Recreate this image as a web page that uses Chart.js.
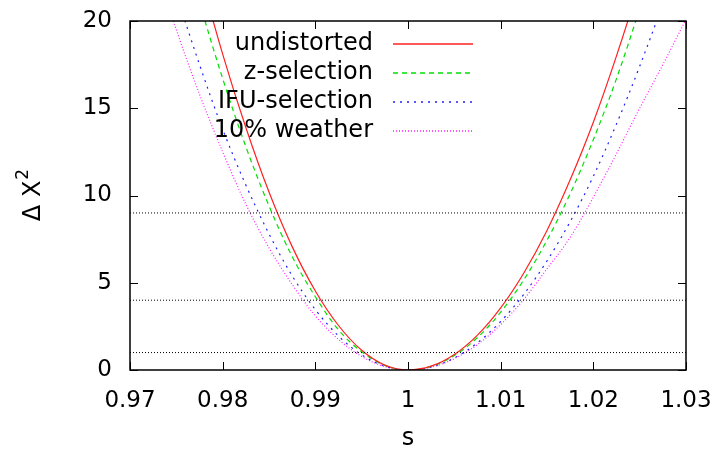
<!DOCTYPE html>
<html>
<head>
<meta charset="utf-8">
<script src="https://cdn.jsdelivr.net/npm/chart.js@4/dist/chart.umd.min.js"></script>
<style>
  html, body { margin: 0; padding: 0; background: #fff; }
  #wrap { width: 722px; height: 456px; }
</style>
</head>
<body>
<div id="wrap"><canvas id="chart"></canvas></div>
<script>
// values
var sValues = [0.9725, 0.975, 0.9775, 0.98, 0.9825, 0.985, 0.9875, 0.99, 0.9925, 0.995, 0.9975, 1.0,
               1.0025, 1.005, 1.0075, 1.01, 1.0125, 1.015, 1.0175, 1.02, 1.0225, 1.025, 1.0275, 1.03];

var undistorted = [null, 28.3, 22.9, 18.1, 13.9, 10.2, 7.07, 4.53, 2.55, 1.13, 0.28, 0,
                   0.22, 0.89, 2.0, 3.56, 5.56, 8.0, 10.9, 14.2, 18.0, 22.2, 26.9, null];
var zSelection = [null, 26.0, 21.1, 16.7, 12.8, 9.4, 6.5, 4.2, 2.3, 1.04, 0.26, 0,
                  0.21, 0.83, 1.86, 3.31, 5.17, 7.44, 10.1, 13.2, 16.7, 20.7, 25.0, null];
var ifuSelection = [26.2, 21.6, 17.5, 13.8, 10.6, 7.8, 5.4, 3.46, 1.95, 0.87, 0.22, 0,
                    0.17, 0.69, 1.56, 2.78, 4.34, 6.25, 8.5, 11.1, 14.1, 17.4, 21.0, 25.0];
var weather10 = [23.6, 19.5, 15.8, 12.5, 9.5, 7.0, 4.9, 3.1, 1.75, 0.78, 0.19, 0,
                 0.16, 0.65, 1.46, 2.6, 4.05, 5.8, 7.6, 9.9, 12.4, 15.0, 17.5, 20.1];

var refLevels = [1, 4, 9];
var xRange = [0.97, 1.03];
var xTicks = [0.97, 0.98, 0.99, 1.0, 1.01, 1.02, 1.03];
var yTicks = [0, 5, 10, 15, 20];

var seriesNames = ['undistorted', 'z-selection', 'IFU-selection', '10% weather'];
var seriesData = [undistorted, zSelection, ifuSelection, weather10];
var seriesColors = ['#ff2020', '#00e000', '#2020ff', '#ff20ff'];
var seriesDash = [[], [5, 4], [2, 5], [1, 2]];

function toPoints(ys) {
    return sValues.map(function (s, i) { return { x: s, y: ys[i] }; });
}

var datasets = [];
refLevels.forEach(function (lvl) {
    datasets.push({
        label: 'ref' + lvl,
        data: [{ x: xRange[0], y: lvl }, { x: xRange[1], y: lvl }],
        borderColor: '#000',
        borderWidth: 1,
        borderDash: [1, 2],
        pointRadius: 0,
        isRef: true
    });
});
seriesNames.forEach(function (name, i) {
    datasets.push({
        label: name,
        data: toPoints(seriesData[i]),
        borderColor: seriesColors[i],
        borderWidth: 1.2,
        borderDash: seriesDash[i],
        pointRadius: 0,
        cubicInterpolationMode: 'monotone',
        spanGaps: false
    });
});

var FONT = 'DejaVu Sans';

// inward gnuplot-style ticks, frame and y title with superscript
var framePlugin = {
    id: 'frame',
    afterDraw: function (chart) {
        var ctx = chart.ctx, a = chart.chartArea;
        var xs = chart.scales.x, ys = chart.scales.y;
        ctx.save();
        ctx.strokeStyle = '#000';
        ctx.lineWidth = 1;
        ctx.beginPath();
        xTicks.forEach(function (v) {
            var px = Math.round(xs.getPixelForValue(v)) + 0.5;
            ctx.moveTo(px, a.bottom); ctx.lineTo(px, a.bottom - 8);
            ctx.moveTo(px, a.top); ctx.lineTo(px, a.top + 8);
        });
        yTicks.forEach(function (v) {
            var py = Math.round(ys.getPixelForValue(v)) + 0.5;
            ctx.moveTo(a.left, py); ctx.lineTo(a.left + 8, py);
            ctx.moveTo(a.right, py); ctx.lineTo(a.right - 8, py);
        });
        ctx.stroke();
        ctx.lineWidth = 1.5;
        ctx.strokeRect(a.left, a.top, a.right - a.left, a.bottom - a.top);

        // y title: Δ X^2
        ctx.translate(40, (a.top + a.bottom) / 2);
        ctx.rotate(-Math.PI / 2);
        ctx.fillStyle = '#000';
        ctx.textBaseline = 'alphabetic';
        ctx.textAlign = 'left';
        ctx.font = '24px "' + FONT + '"';
        var main = 'Δ X';
        var w = ctx.measureText(main).width;
        ctx.font = '17px "' + FONT + '"';
        var w2 = ctx.measureText('2').width;
        var x0 = -(w + w2) / 2;
        ctx.font = '24px "' + FONT + '"';
        ctx.fillText(main, x0, 0);
        ctx.font = '17px "' + FONT + '"';
        ctx.fillText('2', x0 + w + 1, -12);
        ctx.restore();
    }
};

// gnuplot key: text right aligned, sample line to the right
var keyPlugin = {
    id: 'key',
    afterDatasetsDraw: function (chart) {
        var ctx = chart.ctx;
        ctx.save();
        ctx.font = '24px "' + FONT + '"';
        ctx.textAlign = 'right';
        ctx.textBaseline = 'middle';
        var row = 0;
        chart.data.datasets.forEach(function (ds) {
            if (ds.isRef) return;
            var y = 44 + row * 29;
            ctx.fillStyle = '#000';
            ctx.fillText(ds.label, 373, y);
            ctx.strokeStyle = ds.borderColor;
            ctx.lineWidth = 1.5;
            ctx.setLineDash(ds.borderDash);
            ctx.beginPath();
            ctx.moveTo(393, y);
            ctx.lineTo(473, y);
            ctx.stroke();
            ctx.setLineDash([]);
            row++;
        });
        ctx.restore();
    }
};

new Chart(document.getElementById('chart'), {
    type: 'line',
    data: { datasets: datasets },
    options: {
        responsive: true,
        maintainAspectRatio: false,
        animation: false,
        layout: { padding: { top: 21, right: 36, left: 0, bottom: 0 } },
        plugins: { legend: { display: false }, tooltip: { enabled: false } },
        scales: {
            x: {
                type: 'linear',
                min: xRange[0],
                max: xRange[1],
                afterBuildTicks: function (scale) {
                    scale.ticks = xTicks.map(function (v) { return { value: v }; });
                },
                afterFit: function (scale) {
                    scale.height = 86;
                    scale.paddingLeft = 0;
                    scale.paddingRight = 0;
                },
                grid: { drawOnChartArea: false, drawTicks: false },
                border: { display: false },
                ticks: {
                    padding: 17,
                    color: '#000',
                    maxRotation: 0,
                    font: { family: FONT, size: 23 },
                    callback: function (v) { return String(+v.toFixed(2)); }
                },
                title: {
                    display: true,
                    text: 's',
                    color: '#000',
                    padding: { top: 5, bottom: 3 },
                    font: { family: FONT, size: 24 }
                }
            },
            y: {
                min: 0,
                max: 20,
                afterBuildTicks: function (scale) {
                    scale.ticks = yTicks.map(function (v) { return { value: v }; });
                },
                afterFit: function (scale) {
                    scale.width = 130;
                    scale.paddingTop = 0;
                    scale.paddingBottom = 0;
                },
                grid: { drawOnChartArea: false, drawTicks: false },
                border: { display: false },
                ticks: {
                    padding: 18,
                    color: '#000',
                    font: { family: FONT, size: 23 }
                },
                title: { display: false }
            }
        }
    },
    plugins: [framePlugin, keyPlugin]
});
</script>
</body>
</html>
